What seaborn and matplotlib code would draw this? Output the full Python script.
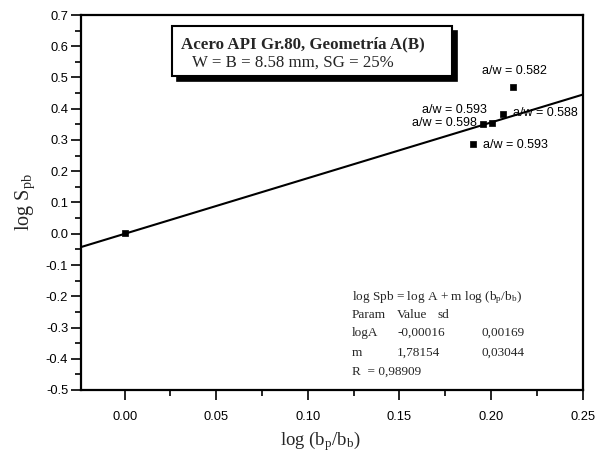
import numpy as np
import pandas as pd
import matplotlib
matplotlib.use("Agg")
import matplotlib.pyplot as plt
from matplotlib.patches import Rectangle
from matplotlib.ticker import MultipleLocator, FormatStrFormatter
import seaborn as sns

# ---- data ----
log_bp_bb = [0.0, 0.1903, 0.1955, 0.2007, 0.2063, 0.2117]
log_spb = [0.001, 0.286, 0.350, 0.355, 0.383, 0.471]
aw_labels = ["a/w = 0.593", "a/w = 0.598", "a/w = 0.593", "a/w = 0.588", "a/w = 0.582"]
label_pos = [(0.1956, 0.284), (0.157, 0.354), (0.1624, 0.396), (0.212, 0.387), (0.195, 0.521)]
logA = -0.00016
m = 1.78154
sd_logA = "0,00169"
sd_m = "0,03044"
R = "0,98909"
xlim = (-0.024, 0.25)
ylim = (-0.5, 0.7)

sns.set_theme(style="white")
plt.rcParams['font.family'] = ['Liberation Sans', 'DejaVu Sans']
plt.rcParams['mathtext.fontset'] = 'custom'
plt.rcParams['mathtext.rm'] = 'Liberation Serif'
plt.rcParams['mathtext.it'] = 'Liberation Serif:italic'

fig = plt.figure(figsize=(6.07, 4.54), dpi=100)
ax = fig.add_axes([80.7/607, 1-390/454, 502/607, 375/454])

pts = pd.DataFrame({"x": log_bp_bb, "y": log_spb})
fit = pd.DataFrame({"x": list(xlim)})
fit["y"] = logA + m * fit["x"]

sns.lineplot(data=fit, x="x", y="y", ax=ax, color="black", lw=1.5, zorder=2)
sns.scatterplot(data=pts, x="x", y="y", ax=ax, marker="s", color="black",
                s=22, edgecolor="black", linewidth=0.5, zorder=3)

ax.set_xlim(*xlim)
ax.set_ylim(*ylim)
ax.xaxis.set_major_locator(MultipleLocator(0.05))
ax.xaxis.set_minor_locator(MultipleLocator(0.025))
ax.yaxis.set_major_locator(MultipleLocator(0.1))
ax.yaxis.set_minor_locator(MultipleLocator(0.05))
ax.xaxis.set_major_formatter(FormatStrFormatter('%.2f'))
ax.yaxis.set_major_formatter(FormatStrFormatter('%.1f'))
ax.tick_params(axis='both', which='major', direction='out', length=7, width=1.2,
               labelsize=9.3, bottom=True, left=True, top=False, right=False, color='black',
               labelcolor='black', pad=2)
ax.tick_params(axis='x', which='major', pad=8)
ax.tick_params(axis='both', which='minor', direction='out', length=4, width=1.2,
               bottom=True, left=True, top=False, right=False, color='black')
for s in ax.spines.values():
    s.set_linewidth(1.6)
    s.set_color('black')

ax.set_xlabel(r'log (b$_{\rm p}$/b$_{\rm b}$)', family='Liberation Serif', fontsize=13.5, labelpad=4)
ax.set_ylabel(r'log S$_{\rm pb}$', family='Liberation Serif', fontsize=14.5, labelpad=6)
ax.xaxis.set_label_coords(0.477, -0.105)

for lab, (lx, ly) in zip(aw_labels, label_pos):
    ax.text(lx, ly, lab, fontsize=9, ha='left', va='center', color='black', zorder=4)

# title box with shadow
bx0, bx1 = (172-80.7)/502, (452-80.7)/502
by1, by0 = 1-(26-15)/375, 1-(76-15)/375
sdx, sdy = 5/502, 5/375
ax.add_patch(Rectangle((bx0+sdx, by0-sdy), bx1-bx0, by1-by0, transform=ax.transAxes,
                       facecolor='black', edgecolor='black', lw=1.2, zorder=5))
ax.add_patch(Rectangle((bx0, by0), bx1-bx0, by1-by0, transform=ax.transAxes,
                       facecolor='white', edgecolor='black', lw=1.5, zorder=6))
ax.text((181-80.7)/502, 1-(44-15)/375, 'Acero API Gr.80, Geometría A(B)', transform=ax.transAxes,
        family='Liberation Serif', fontweight='bold', fontsize=12.2, ha='left', va='center', zorder=7)
ax.text((192-80.7)/502, 1-(63-15)/375, 'W = B = 8.58 mm, SG = 25%', transform=ax.transAxes,
        family='Liberation Serif', fontsize=12.2, ha='left', va='center', zorder=7)

# fit parameters block
fs = 9.5
tx = (352-80.7)/502
ax.text(tx, 1-(298-15)/375, r'log Spb = log A + m log (b$_{\rm p}$/b$_{\rm b}$)', transform=ax.transAxes,
        family='Liberation Serif', fontsize=fs, ha='left', va='center')
rows = [("Param", "Value", "sd", None, 315),
        ("logA", "-0,00016", None, sd_logA, 333),
        ("m", "1,78154", None, sd_m, 353)]
for a, b, c, d, py in rows:
    yy = 1-(py-15)/375
    ax.text(tx, yy, a, transform=ax.transAxes, family='Liberation Serif', fontsize=fs, ha='left', va='center')
    ax.text((397-80.7)/502, yy, b, transform=ax.transAxes, family='Liberation Serif', fontsize=fs, ha='left', va='center')
    if c:
        ax.text((438-80.7)/502, yy, c, transform=ax.transAxes, family='Liberation Serif', fontsize=fs, ha='left', va='center')
    if d:
        ax.text((482-80.7)/502, yy, d, transform=ax.transAxes, family='Liberation Serif', fontsize=fs, ha='left', va='center')
ax.text(tx, 1-(372-15)/375, 'R  = ' + R, transform=ax.transAxes, family='Liberation Serif', fontsize=fs,
        ha='left', va='center')

fig.savefig("out.png", dpi=100)
